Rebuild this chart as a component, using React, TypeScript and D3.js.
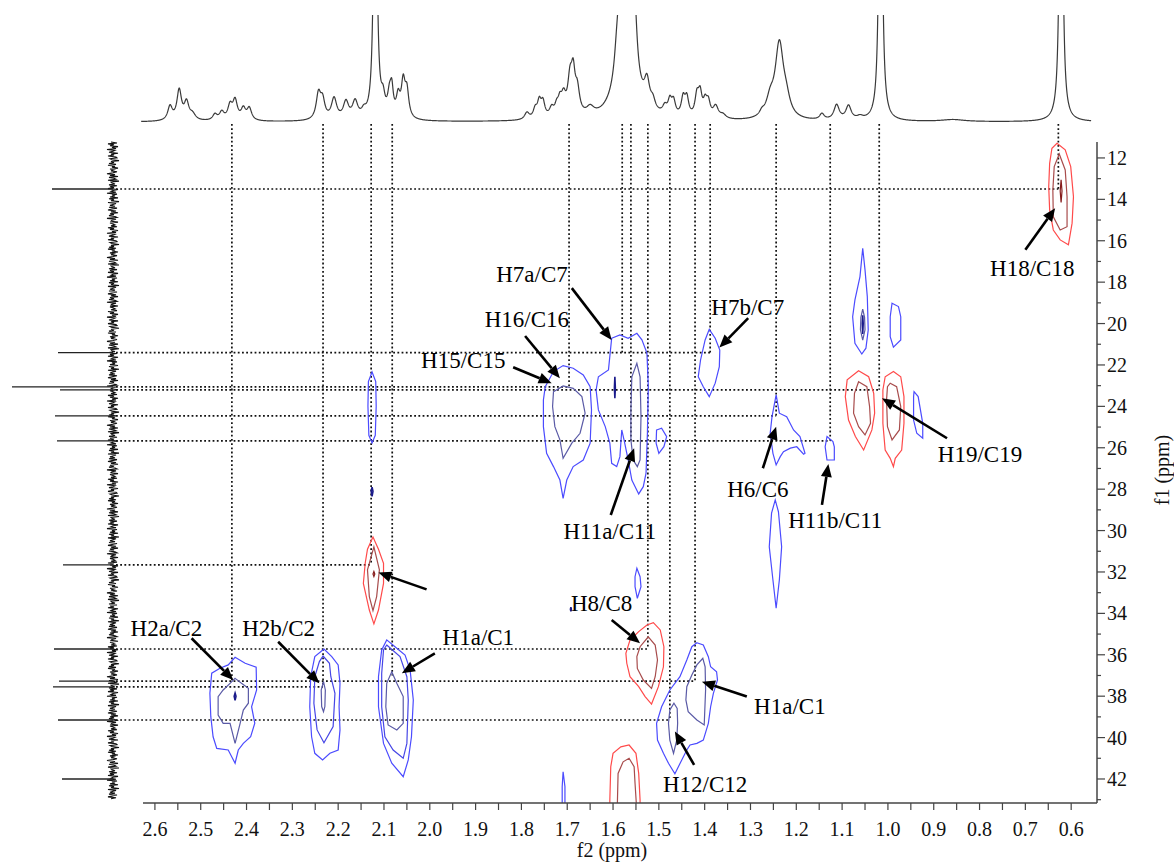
import React from "react";
import * as d3 from "d3";

type P = [number, number];

// ---------- axes ----------
const X_TICKS = [2.6, 2.5, 2.4, 2.3, 2.2, 2.1, 2.0, 1.9, 1.8, 1.7, 1.6, 1.5, 1.4, 1.3, 1.2, 1.1, 1.0, 0.9, 0.8, 0.7, 0.6];
const Y_TICKS = [12, 14, 16, 18, 20, 22, 24, 26, 28, 30, 32, 34, 36, 38, 40, 42];

// ---------- 1H projection: [ppm, height, half width (ppm)] ----------
const H_PEAKS: [number, number, number][] = [
  [2.567, 14, 0.006], [2.547, 30, 0.006], [2.531, 17, 0.006], [2.518, 6, 0.008],
  [2.469, 6, 0.006], [2.454, 8, 0.006], [2.436, 14, 0.006], [2.425, 19, 0.006], [2.407, 11, 0.006], [2.394, 12, 0.006],
  [2.243, 25, 0.006], [2.234, 18, 0.006], [2.209, 21, 0.007], [2.183, 17, 0.007], [2.163, 17, 0.007], [2.144, 6, 0.006],
  [2.119, 400, 0.0035], [2.102, 16, 0.005], [2.088, 20, 0.005], [2.083, 24, 0.004], [2.069, 20, 0.005], [2.058, 34, 0.005], [2.05, 26, 0.005],
  [1.788, 7, 0.006], [1.77, 9, 0.005], [1.761, 16, 0.005], [1.753, 15, 0.005], [1.734, 9, 0.006], [1.723, 9, 0.005],
  [1.716, 13, 0.005], [1.708, 18, 0.006], [1.694, 34, 0.006], [1.687, 36, 0.005], [1.678, 24, 0.006], [1.65, 8, 0.01],
  [1.592, 16, 0.006], [1.572, 420, 0.0095], [1.553, 50, 0.006], [1.526, 26, 0.007], [1.513, 9, 0.006],
  [1.487, 8, 0.006], [1.476, 14, 0.005], [1.468, 14, 0.005], [1.447, 18, 0.005], [1.439, 18, 0.005], [1.417, 20, 0.005],
  [1.41, 22, 0.005], [1.399, 14, 0.005], [1.392, 14, 0.005], [1.376, 12, 0.007], [1.36, 4, 0.008],
  [1.275, 4, 0.006], [1.257, 16, 0.01], [1.237, 74, 0.011], [1.222, 14, 0.01],
  [1.144, 6, 0.006], [1.112, 15, 0.007], [1.086, 14, 0.007], [1.061, 3, 0.008],
  [1.016, 500, 0.0032], [0.858, 2, 0.03], [0.622, 500, 0.0032],
];

// ---------- 13C projection ----------
const C_PEAKS: P[] = [
  [13.5, 61], [21.4, 55], [23.06, 101], [23.2, 53], [24.46, 58], [25.67, 56],
  [31.66, 50], [35.72, 59], [37.27, 54], [37.55, 60], [39.15, 55], [42.0, 51],
];
const C_NOISE = [
  2, -4, 5, -1, 3, -5, 1, -3, 6, -2, 0, 4, -5, 2, -1, 5, -3, -4, 3, 1, -6, 2, -1, 4, -3, 5, -2, 1, -5, 3,
  -1, 2, -4, 0, 6, -2, 3, -5, 4, -1, -3, 5, -6, 2, 1, -2, 4, -4, 3, -1, 5, -5, 0, 2, -3, 6, -4, 1, -2, 3,
  -5, 4, -1, 2, -6, 5, -3, 0, 3, -2, 4, -4, 1, 5, -3, 2, -5, 3, -1, 4, -2, -4, 6, -3, 1, 2, -5, 3, 0, -2,
];

// ---------- guide lines ----------
const V_GUIDES: P[] = [ // [1H ppm, 13C end]
  [2.432, 37.27], [2.233, 37.55], [2.128, 31.66], [2.082, 37.0], [1.696, 23.06], [1.58, 21.4],
  [1.561, 25.67], [1.524, 35.72], [1.476, 39.15], [1.421, 37.27], [1.388, 21.4], [1.244, 24.46],
  [1.126, 25.67], [1.019, 23.2], [0.628, 13.5],
];
const H_GUIDES: P[] = [ // [13C ppm, 1H end]
  [13.5, 0.628], [21.4, 1.388], [23.06, 1.696], [23.2, 1.019], [24.46, 1.244], [25.67, 1.126],
  [31.66, 2.128], [35.72, 1.524], [37.27, 1.421], [37.55, 2.233], [39.15, 1.476],
];

// ---------- contours ([1H ppm, 13C ppm]) ----------
const H2A_O: P[] = [[2.425,36.12],[2.403,36.41],[2.379,36.6],[2.378,37.7],[2.389,38.51],[2.382,39.31],[2.391,39.96],[2.407,40.28],[2.418,40.6],[2.425,41.24],[2.44,40.6],[2.465,40.52],[2.473,39.96],[2.478,38.99],[2.48,37.86],[2.476,36.89],[2.458,36.65],[2.44,36.49]];
const H2A_I: P[] = [[2.425,37.14],[2.411,37.38],[2.396,37.62],[2.396,38.34],[2.407,38.67],[2.414,39.31],[2.425,40.28],[2.436,39.31],[2.451,39.31],[2.462,38.91],[2.462,38.02],[2.451,37.7],[2.436,37.38]];
const H2A_C: P[] = [[2.425,37.85],[2.423,38.0],[2.425,38.2],[2.427,38.0]];
const H2B_O: P[] = [[2.231,35.72],[2.214,36.09],[2.2,36.49],[2.196,37.38],[2.198,38.51],[2.196,39.63],[2.2,40.6],[2.218,40.76],[2.234,41.08],[2.251,40.76],[2.258,39.96],[2.262,38.51],[2.26,37.06],[2.251,36.09]];
const H2B_M: P[] = [[2.233,36.06],[2.219,36.41],[2.216,37.06],[2.207,37.86],[2.211,39.47],[2.231,40.25],[2.246,39.63],[2.253,38.34],[2.251,37.06],[2.241,36.33]];
const H2B_I: P[] = [[2.232,37.3],[2.228,37.7],[2.229,38.5],[2.232,38.75],[2.236,38.5],[2.237,37.7]];
const H1L_O: P[] = [[2.094,35.28],[2.076,35.61],[2.054,36.01],[2.043,36.73],[2.036,38.18],[2.04,39.96],[2.047,41.08],[2.058,41.89],[2.083,41.24],[2.101,40.28],[2.112,38.51],[2.112,37.06],[2.105,35.77]];
const H1L_M: P[] = [[2.094,35.53],[2.065,36.09],[2.05,37.06],[2.047,38.18],[2.05,40.28],[2.058,41.0],[2.08,40.6],[2.098,39.96],[2.105,38.51],[2.105,36.9],[2.101,35.77]];
const H1L_I: P[] = [[2.083,36.82],[2.072,37.38],[2.058,38.02],[2.058,39.31],[2.072,39.63],[2.091,39.39],[2.096,38.51],[2.094,37.38]];
const R31_O: P[] = [[2.124,30.31],[2.112,30.9],[2.101,31.58],[2.101,32.55],[2.112,33.84],[2.122,34.51],[2.132,33.84],[2.145,32.55],[2.141,31.58],[2.136,30.9]];
const R31_I: P[] = [[2.122,30.79],[2.11,31.9],[2.116,33.19],[2.124,33.87],[2.132,33.19],[2.136,31.9]];
const R31_C: P[] = [[2.122,31.98],[2.12,32.1],[2.122,32.22],[2.124,32.1]];
const B212: P[] = [[2.126,22.34],[2.118,22.8],[2.117,24.0],[2.119,25.4],[2.126,25.77],[2.133,25.4],[2.135,24.0],[2.134,22.8]];
const B28: P[] = [[2.126,27.9],[2.124,28.1],[2.126,28.35],[2.128,28.1]];
const H16_O: P[] = [[1.748,23.05],[1.73,22.32],[1.709,22.03],[1.687,22.16],[1.665,22.48],[1.65,23.05],[1.647,24.17],[1.65,25.78],[1.665,26.59],[1.687,26.91],[1.701,27.56],[1.709,28.44],[1.716,27.56],[1.73,26.91],[1.745,26.27],[1.752,24.98],[1.752,23.69]];
const H16_I: P[] = [[1.73,23.29],[1.709,23.01],[1.687,23.13],[1.668,23.53],[1.661,24.33],[1.672,25.3],[1.69,25.78],[1.709,26.51],[1.716,25.62],[1.727,24.98],[1.732,24.01]];
const H7A_O: P[] = [[1.603,20.71],[1.585,20.55],[1.567,20.71],[1.548,20.47],[1.537,20.79],[1.526,21.43],[1.523,23.05],[1.525,25.3],[1.528,27.23],[1.534,27.88],[1.544,28.23],[1.559,27.56],[1.567,26.59],[1.576,25.62],[1.581,25.14],[1.585,26.43],[1.592,26.91],[1.603,26.75],[1.607,25.78],[1.617,24.98],[1.632,24.17],[1.637,23.21],[1.632,22.57],[1.61,22.24]];
const H7A_I: P[] = [[1.548,21.92],[1.541,22.57],[1.539,24.5],[1.541,26.59],[1.547,26.91],[1.556,26.59],[1.561,25.62],[1.561,24.17],[1.559,22.57]];
const H7A_C: P[] = [[1.596,22.57],[1.595,23.1],[1.596,23.61],[1.597,23.1]];
const B151: P[] = [[1.505,25.14],[1.494,25.06],[1.483,25.46],[1.489,25.95],[1.5,26.27],[1.506,25.78]];
const H7B: P[] = [[1.39,20.28],[1.377,20.71],[1.367,21.28],[1.368,22.08],[1.377,22.88],[1.39,23.53],[1.403,23.05],[1.414,22.57],[1.409,21.76],[1.399,20.79]];
const H6: P[] = [[1.244,23.45],[1.237,24.33],[1.221,24.5],[1.206,25.14],[1.192,25.46],[1.181,26.27],[1.184,26.31],[1.199,25.95],[1.213,26.02],[1.228,26.19],[1.235,26.43],[1.244,26.83],[1.251,26.27],[1.257,25.3],[1.253,24.5]];
const H11B: P[] = [[1.133,25.46],[1.12,25.7],[1.117,25.95],[1.117,26.59],[1.133,26.59],[1.137,25.95]];
const B125: P[] = [[1.246,28.52],[1.239,29.09],[1.232,30.78],[1.237,32.39],[1.244,33.75],[1.251,32.39],[1.259,30.78],[1.254,29.16]];
const B155: P[] = [[1.548,31.82],[1.541,32.23],[1.539,32.71],[1.547,33.27],[1.552,32.71],[1.552,32.23]];
const B169: P[] = [[1.692,33.7],[1.691,33.8],[1.692,33.9],[1.693,33.8]];
const H8_O: P[] = [[1.512,34.45],[1.497,34.8],[1.489,35.61],[1.49,36.58],[1.501,37.54],[1.516,38.38],[1.53,38.02],[1.544,37.54],[1.563,37.06],[1.57,36.41],[1.572,35.93],[1.563,35.29],[1.544,34.88],[1.526,34.56]];
const H8_I: P[] = [[1.523,35.13],[1.508,35.53],[1.503,36.25],[1.508,37.06],[1.516,37.62],[1.534,37.22],[1.547,36.66],[1.548,36.09],[1.541,35.61]];
const H1R_O: P[] = [[1.417,35.42],[1.403,35.53],[1.392,36.09],[1.387,36.58],[1.374,36.82],[1.372,37.22],[1.381,37.86],[1.387,38.51],[1.392,39.31],[1.403,40.12],[1.417,40.28],[1.432,40.36],[1.439,40.6],[1.45,41.08],[1.465,41.75],[1.479,41.24],[1.49,40.76],[1.503,40.12],[1.505,39.31],[1.494,38.51],[1.476,37.7],[1.454,37.06],[1.439,36.25],[1.428,35.61]];
const H1R_I: P[] = [[1.404,36.17],[1.399,36.58],[1.398,37.7],[1.401,39.39],[1.417,39.15],[1.436,38.75],[1.441,38.18],[1.439,37.54],[1.428,36.98],[1.417,36.49]];
const H12_I: P[] = [[1.467,38.34],[1.46,38.59],[1.459,39.31],[1.461,40.12],[1.468,40.76],[1.476,40.12],[1.479,39.31],[1.476,38.67]];
const R42_O: P[] = [[1.607,43.6],[1.607,43.02],[1.605,41.41],[1.6,40.76],[1.583,40.45],[1.565,40.36],[1.55,40.76],[1.544,41.73],[1.541,43.02],[1.541,43.6]];
const R42_I: P[] = [[1.591,43.6],[1.589,41.73],[1.578,41.17],[1.565,41.0],[1.554,41.41],[1.552,42.21],[1.548,43.6]];
const B171: P[] = [[1.709,41.65],[1.705,42.37],[1.705,43.6],[1.711,43.6],[1.711,42.37]];
const B107_O: P[] = [[1.055,16.36],[1.05,17.41],[1.045,18.7],[1.043,20.31],[1.048,21.19],[1.057,21.47],[1.072,20.95],[1.077,19.67],[1.072,18.86],[1.061,17.73]];
const B107_I: P[] = [[1.055,19.3],[1.051,19.7],[1.05,20.3],[1.055,20.8],[1.06,20.3],[1.059,19.7]];
const B107_C: P[] = [[1.055,19.6],[1.054,20.0],[1.055,20.5],[1.056,20.0]];
const B100: P[] = [[0.991,19.02],[0.977,19.18],[0.972,19.67],[0.972,20.79],[0.988,21.14],[0.995,20.63],[0.995,19.67]];
const H19L_O: P[] = [[1.064,22.28],[1.042,22.57],[1.031,23.37],[1.029,24.33],[1.035,25.14],[1.053,26.11],[1.071,25.46],[1.086,24.66],[1.093,23.53],[1.089,22.72]];
const H19L_I: P[] = [[1.064,22.81],[1.046,23.05],[1.04,24.01],[1.038,24.82],[1.05,25.38],[1.064,24.98],[1.075,24.33],[1.073,23.37]];
const H19R_O: P[] = [[0.988,22.32],[0.972,22.57],[0.965,23.53],[0.965,24.82],[0.97,26.11],[0.984,26.51],[0.988,26.91],[0.995,26.51],[1.006,26.11],[1.011,24.82],[1.011,23.21],[1.006,22.57]];
const H19R_I: P[] = [[0.995,22.88],[0.981,23.05],[0.972,24.01],[0.975,25.14],[0.991,25.62],[1.001,24.98],[1.003,23.69],[1.001,23.05]];
const B094: P[] = [[0.943,23.29],[0.934,23.53],[0.924,24.82],[0.924,25.54],[0.937,25.3],[0.944,24.66],[0.944,23.53]];
const H18_O: P[] = [[0.631,11.29],[0.613,11.61],[0.601,12.42],[0.595,13.87],[0.598,15.15],[0.606,16.2],[0.624,15.96],[0.639,15.48],[0.647,14.51],[0.649,13.39],[0.647,12.26],[0.642,11.53]];
const H18_I: P[] = [[0.626,11.81],[0.613,12.58],[0.609,13.87],[0.609,15.32],[0.624,15.48],[0.639,14.84],[0.64,13.55],[0.637,12.42]];
const H18_C: P[] = [[0.622,13.05],[0.62,13.6],[0.622,14.15],[0.624,13.6]];

// sign: 1 = positive (blue), -1 = negative (red); level: 0 outer ... 3 core
const CONTOURS: { sign: number; level: number; pts: P[] }[] = [
  { sign: 1, level: 0, pts: H2A_O }, { sign: 1, level: 2, pts: H2A_I }, { sign: 1, level: 3, pts: H2A_C },
  { sign: 1, level: 0, pts: H2B_O }, { sign: 1, level: 1, pts: H2B_M }, { sign: 1, level: 2, pts: H2B_I },
  { sign: 1, level: 0, pts: H1L_O }, { sign: 1, level: 1, pts: H1L_M }, { sign: 1, level: 2, pts: H1L_I },
  { sign: -1, level: 0, pts: R31_O }, { sign: -1, level: 1, pts: R31_I }, { sign: -1, level: 2, pts: R31_C },
  { sign: 1, level: 0, pts: B212 }, { sign: 1, level: 3, pts: B28 },
  { sign: 1, level: 0, pts: H16_O }, { sign: 1, level: 2, pts: H16_I },
  { sign: 1, level: 0, pts: H7A_O }, { sign: 1, level: 2, pts: H7A_I }, { sign: 1, level: 3, pts: H7A_C },
  { sign: 1, level: 0, pts: B151 }, { sign: 1, level: 0, pts: H7B }, { sign: 1, level: 0, pts: H6 },
  { sign: 1, level: 0, pts: H11B }, { sign: 1, level: 0, pts: B125 }, { sign: 1, level: 0, pts: B155 },
  { sign: 1, level: 3, pts: B169 },
  { sign: -1, level: 0, pts: H8_O }, { sign: -1, level: 1, pts: H8_I },
  { sign: 1, level: 0, pts: H1R_O }, { sign: 1, level: 2, pts: H1R_I }, { sign: 1, level: 2, pts: H12_I },
  { sign: -1, level: 0, pts: R42_O }, { sign: -1, level: 1, pts: R42_I },
  { sign: 1, level: 0, pts: B171 },
  { sign: 1, level: 0, pts: B107_O }, { sign: 1, level: 2, pts: B107_I }, { sign: 1, level: 3, pts: B107_C },
  { sign: 1, level: 0, pts: B100 },
  { sign: -1, level: 0, pts: H19L_O }, { sign: -1, level: 1, pts: H19L_I },
  { sign: -1, level: 0, pts: H19R_O }, { sign: -1, level: 1, pts: H19R_I },
  { sign: 1, level: 0, pts: B094 },
  { sign: -1, level: 0, pts: H18_O }, { sign: -1, level: 1, pts: H18_I }, { sign: -1, level: 2, pts: H18_C },
];

// ---------- annotations ----------
const LABELS: [string, number, number][] = [
  ["H18/C18", 0.685, 17.31], ["H7a/C7", 1.777, 17.6], ["H16/C16", 1.788, 19.78], ["H15/C15", 1.927, 21.76],
  ["H7b/C7", 1.306, 19.2], ["H6/C6", 1.284, 27.99], ["H11b/C11", 1.115, 29.49], ["H19/C19", 0.799, 26.3],
  ["H11a/C11", 1.607, 30.02], ["H8/C8", 1.625, 33.52], ["H1a/C1", 1.214, 38.45], ["H12/C12", 1.399, 42.22],
  ["H1a/C1", 1.894, 35.12], ["H2b/C2", 2.33, 34.7], ["H2a/C2", 2.575, 34.7],
];
const ARROWS: [number, number, number, number][] = [
  [0.7, 16.44, 0.635, 14.43], [1.69, 18.29, 1.603, 20.79], [1.792, 20.6, 1.716, 22.64], [1.818, 22.11, 1.734, 22.88],
  [1.305, 19.74, 1.368, 21.16], [1.273, 26.99, 1.244, 24.98], [1.144, 28.76, 1.13, 26.78], [0.871, 25.54, 1.013, 23.61],
  [1.605, 29.25, 1.554, 26.02], [1.603, 34.32, 1.541, 35.44], [1.308, 38.02, 1.406, 37.3], [1.423, 41.32, 1.465, 39.71],
  [1.989, 35.93, 2.061, 36.89], [2.331, 35.37, 2.241, 37.38], [2.52, 35.2, 2.429, 37.22], [2.007, 32.84, 2.112, 32.03],
];

const BLUE = ["#4b4bff", "#4646e6", "#5a5aa6", "#1a1a8a"];
const RED = ["#ff4a4a", "#a84c4c", "#861c1c", "#861c1c"];
const SERIF = "'Liberation Serif', 'Times New Roman', serif";

export default function App() {
  const W = 1174, H = 863;
  const x = d3.scaleLinear().domain([2.626, 0.548]).range([143, 1095]);
  const y = d3.scaleLinear().domain([11.23, 43.16]).range([142, 803]);
  const hI = d3.scaleLinear().domain([0, 107]).range([122, 15]);
  const cI = d3.scaleLinear().domain([0, 100]).range([113, 13]);

  // 1H trace
  const hPts: P[] = d3.range(2.63, 0.556, -0.0005).map((p) => {
    let s = 0;
    for (const [c, h, w] of H_PEAKS) { const d = (p - c) / w; s += h / (1 + d * d); }
    return [p, s];
  });
  const hLine = d3.line<P>().x((d) => x(d[0])).y((d) => hI(d[1]))(hPts) || "";

  // 13C trace (noise texture)
  const cGrid = d3.range(11.23, 43.0, 0.045);
  const cPts: P[] = cGrid.map((p, i) => [p, C_NOISE[i % C_NOISE.length]]);
  const cLine = d3.line<P>().x((d) => cI(d[1])).y((d) => y(d[0]))(cPts) || "";

  const contourLine = d3.line<P>().x((d) => x(d[0])).y((d) => y(d[1])).curve(d3.curveLinearClosed);

  const xMinor = d3.range(2.6, 0.55, -0.05);
  const yMinor = d3.range(12, 43.01, 1);

  const arrowEls = ARROWS.map(([a, b, c, d], i) => {
    const x1 = x(a), y1 = y(b), x2 = x(c), y2 = y(d);
    const ang = Math.atan2(y2 - y1, x2 - x1);
    const L = 13, hw = 5.5;
    const bx = x2 - L * Math.cos(ang), by = y2 - L * Math.sin(ang);
    const px = -Math.sin(ang) * hw, py = Math.cos(ang) * hw;
    return (
      <g key={"a" + i}>
        <line x1={x1} y1={y1} x2={bx} y2={by} stroke="#000" strokeWidth={2.6} />
        <polygon points={`${x2},${y2} ${bx + px},${by + py} ${bx - px},${by - py}`} fill="#000" />
      </g>
    );
  });

  return (
    <svg width={W} height={H} style={{ position: "absolute", left: 0, top: 0, background: "#fff" }} fontFamily={SERIF}>
      <defs>
        <clipPath id="plotClip"><rect x={143} y={142} width={952} height={661} /></clipPath>
        <clipPath id="topClip"><rect x={130} y={15} width={980} height={120} /></clipPath>
      </defs>
      <rect x={0} y={0} width={W} height={H} fill="#fff" />

      {/* 1H projection */}
      <g clipPath="url(#topClip)">
        <path d={hLine} fill="none" stroke="#3a3a3a" strokeWidth={1.2} />
      </g>

      {/* 13C projection */}
      <path d={cLine} fill="none" stroke="#111" strokeWidth={1.1} />
      {C_PEAKS.map(([p, h], i) => (
        <line key={"c" + i} x1={cI(0)} x2={cI(h)} y1={y(p)} y2={y(p)} stroke="#222" strokeWidth={1.3} />
      ))}

      {/* guide lines */}
      <g stroke="#111" strokeWidth={1.7} strokeDasharray="1.8 2.4">
        {V_GUIDES.map(([h, c], i) => (
          <line key={"v" + i} x1={x(h)} x2={x(h)} y1={124} y2={y(c)} />
        ))}
        {H_GUIDES.map(([c, h], i) => (
          <line key={"h" + i} x1={116} x2={x(h)} y1={y(c)} y2={y(c)} />
        ))}
      </g>

      {/* contours */}
      <g clipPath="url(#plotClip)" fill="none">
        {CONTOURS.map((c, i) => (
          <path key={"k" + i} d={contourLine(c.pts) || ""}
            stroke={(c.sign > 0 ? BLUE : RED)[c.level]}
            strokeWidth={c.level === 3 ? 1.6 : 1.2} />
        ))}
      </g>

      {/* arrows & labels */}
      {arrowEls}
      {LABELS.map(([t, a, b], i) => (
        <text key={"l" + i} x={x(a)} y={y(b)} dy="0.35em" textAnchor="middle" fontSize={23} fill="#000">{t}</text>
      ))}

      {/* x axis */}
      <line x1={143} x2={1097} y1={803} y2={803} stroke="#444" strokeWidth={1.5} />
      {xMinor.map((t, i) => (
        <line key={"xt" + i} x1={x(t)} x2={x(t)} y1={803} y2={810} stroke="#444" strokeWidth={1.2} />
      ))}
      {X_TICKS.map((t, i) => (
        <text key={"xl" + i} x={x(t)} y={836} textAnchor="middle" fontSize={20} fill="#111">{d3.format(".1f")(t)}</text>
      ))}
      <text x={612} y={857} textAnchor="middle" fontSize={20} fill="#111">f2 (ppm)</text>

      {/* y axis */}
      <line x1={1097} x2={1097} y1={142} y2={803} stroke="#444" strokeWidth={1.5} />
      {yMinor.map((t, i) => (
        <line key={"yt" + i} x1={1097} x2={t % 2 === 0 ? 1105 : 1101} y1={y(t)} y2={y(t)} stroke="#444" strokeWidth={1.2} />
      ))}
      {Y_TICKS.map((t, i) => (
        <text key={"yl" + i} x={1107} y={y(t)} dy="0.35em" textAnchor="start" fontSize={20} fill="#111">{t}</text>
      ))}
      <text transform={`translate(1162,470) rotate(-90)`} textAnchor="middle" dy="0.35em" fontSize={20} fill="#111">f1 (ppm)</text>
    </svg>
  );
}
